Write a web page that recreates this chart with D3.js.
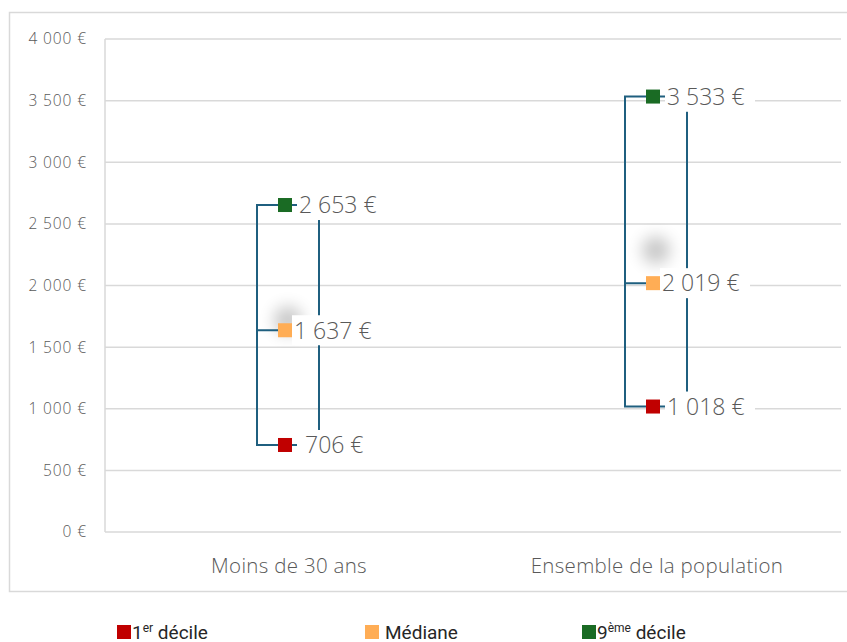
<!DOCTYPE html>
<html>
<head>
<meta charset="UTF-8">
<script src="https://d3js.org/d3.v7.min.js"></script>
<style>
  body { margin: 0; background: #fff; }
  svg text { font-family: "Open Sans", Roboto, sans-serif; }
  .axis text { fill: #595959; font-size: 15.5px; font-weight: 300; letter-spacing: 0.9px; }
  .grid line { stroke: #d9d9d9; stroke-width: 1.5; }
  .cat { fill: #595959; font-size: 20.5px; font-weight: 300; letter-spacing: 0.3px; }
  .val { fill: #595959; font-size: 23px; font-weight: 300; }
  .legend text { fill: #262626; font-size: 19px; font-family: Roboto, sans-serif; }
</style>
</head>
<body>
<svg width="847" height="642"></svg>
<script>
// data
var categories = ['Moins de 30 ans', 'Ensemble de la population'];
var decile1 = [706, 1018];
var mediane = [1637, 2019];
var decile9 = [2653, 3533];
var yTicks = [0, 500, 1000, 1500, 2000, 2500, 3000, 3500, 4000];

var colors = { d1: '#c00000', med: '#ffad55', d9: '#1a6b24' };
var lineColor = '#1f5f7f';

var svg = d3.select('svg');
var margin = { top: 39, right: 6, bottom: 110, left: 105 };
var width = 847 - margin.left - margin.right,
    height = 642 - margin.top - margin.bottom;

// outer chart border
svg.append('rect')
  .attr('x', 9.5).attr('y', 12.5)
  .attr('width', 860).attr('height', 579)
  .attr('fill', 'none').attr('stroke', '#d9d9d9').attr('stroke-width', 1.5);

var g = svg.append('g').attr('transform', 'translate(' + margin.left + ',' + margin.top + ')');

var x = d3.scaleBand().domain(categories).range([0, width]);
var y = d3.scaleLinear().domain([0, 4000]).range([height, 0]);

var fmt = function(v) { return d3.format(',')(v).replace(/,/g, ' ') + ' €'; };

// grid
g.append('g').attr('class', 'grid')
  .selectAll('line').data(yTicks).enter().append('line')
  .attr('x1', 0).attr('x2', width)
  .attr('y1', function(d) { return y(d); }).attr('y2', function(d) { return y(d); });
g.append('line').attr('x1', 0).attr('x2', 0).attr('y1', 0).attr('y2', height)
  .attr('stroke', '#d9d9d9').attr('stroke-width', 1.5);

// y axis
var yAxis = g.append('g').attr('class', 'axis')
  .attr('transform', 'translate(-18,0)')
  .call(d3.axisLeft(y).tickValues(yTicks).tickSize(0).tickPadding(0).tickFormat(fmt));
yAxis.select('.domain').remove();

// category labels
g.selectAll('.cat').data(categories).enter().append('text')
  .attr('class', 'cat')
  .attr('x', function(d) { return x(d) + x.bandwidth() / 2; })
  .attr('y', height + 41)
  .attr('text-anchor', 'middle')
  .text(function(d) { return d; });

var rows = categories.map(function(c, i) {
  return { cat: c, lo: decile1[i], med: mediane[i], hi: decile9[i] };
});

// soft grey shadow blobs seen near the medians
var defs = svg.append('defs');
defs.append('filter').attr('id', 'blur').attr('x', '-2').attr('y', '-2').attr('width', '5').attr('height', '5')
  .append('feGaussianBlur').attr('stdDeviation', 8);

var grp = g.selectAll('.grp').data(rows).enter().append('g')
  .attr('class', 'grp')
  .attr('transform', function(d) { return 'translate(' + (x(d.cat) + x.bandwidth() / 2 - 4) + ',0)'; });

var blobShift = [-10, -33];
grp.append('circle')
  .attr('cx', 3).attr('r', 14)
  .attr('cy', function(d, i) { return y(d.med) + blobShift[i]; })
  .attr('fill', '#000').attr('opacity', 0.22)
  .attr('filter', 'url(#blur)');

// bracket line on the left
grp.append('path')
  .attr('fill', 'none').attr('stroke', lineColor).attr('stroke-width', 2)
  .attr('d', function(d) {
    return 'M12,' + y(d.hi) + 'H-28V' + y(d.lo) + 'H12' +
           'M-28,' + y(d.med) + 'H12';
  });

// right line
grp.append('line')
  .attr('stroke', lineColor).attr('stroke-width', 2)
  .attr('x1', 34).attr('x2', 34)
  .attr('y1', function(d) { return y(d.hi) + 15; })
  .attr('y2', function(d) { return y(d.lo) - 12; });

var pts = grp.selectAll('.pt')
  .data(function(d) {
    return [{ v: d.lo, c: colors.d1, k: 'lo' }, { v: d.med, c: colors.med, k: 'med' }, { v: d.hi, c: colors.d9, k: 'hi' }];
  })
  .enter().append('g').attr('class', 'pt');

pts.append('rect')
  .attr('x', -7).attr('width', 14).attr('height', 14)
  .attr('y', function(d) { return y(d.v) - 7; })
  .attr('fill', function(d) { return d.c; });

var lbl = pts.append('g').attr('transform', function(d) {
  return 'translate(' + (d.k === 'med' ? 7 : 12) + ',' + y(d.v) + ')';
});
lbl.append('rect').attr('fill', '#fff')
  .attr('x', 0).attr('y', -15).attr('height', 30)
  .attr('width', function(d) { return d.v < 1000 ? 72 : 90; });
lbl.append('text').attr('class', 'val')
  .attr('x', function(d) { return d.v < 1000 ? 8 : 2; })
  .attr('dy', '0.36em')
  .text(function(d) { return fmt(d.v); });

// legend
var legendItems = [
  { c: colors.d1, t: '1', sup: 'er', rest: ' décile', x: 117 },
  { c: colors.med, t: 'Médiane', sup: '', rest: '', x: 365 },
  { c: colors.d9, t: '9', sup: 'ème', rest: ' décile', x: 582 }
];
var lg = svg.append('g').attr('class', 'legend');
var li = lg.selectAll('g').data(legendItems).enter().append('g')
  .attr('transform', function(d) { return 'translate(' + d.x + ',632)'; });
li.append('rect').attr('x', 0).attr('y', -7).attr('width', 14).attr('height', 14)
  .attr('fill', function(d) { return d.c; });
var lt = li.append('text').attr('x', function(d) { return d.sup ? 15 : 20; }).attr('y', 7);
lt.append('tspan').text(function(d) { return d.t; });
lt.append('tspan').attr('dy', -7).style('font-size', '12px').text(function(d) { return d.sup; });
lt.append('tspan').attr('dy', function(d) { return d.sup ? 7 : 0; }).text(function(d) { return d.rest; });
</script>
</body>
</html>
